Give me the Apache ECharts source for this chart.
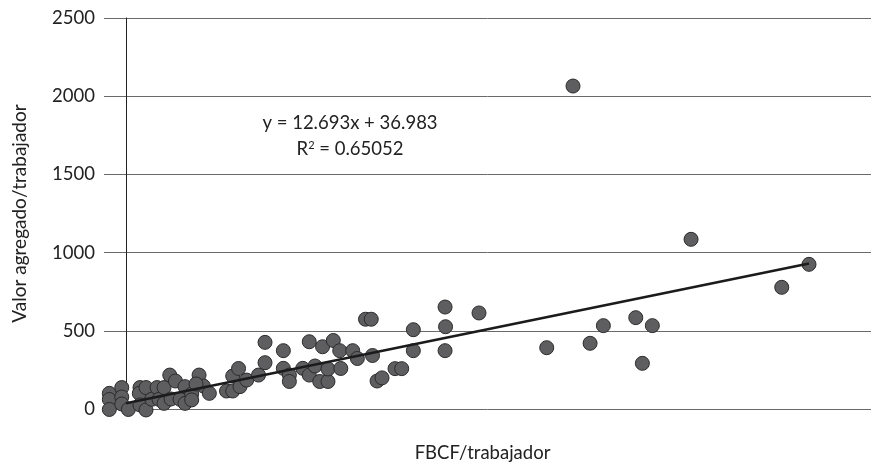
<!DOCTYPE html>
<html>
<head>
<meta charset="utf-8">
<script src="https://cdn.jsdelivr.net/npm/echarts@6/dist/echarts.min.js"></script>
<style>
html,body{margin:0;padding:0;background:#fff;}
#chart{width:871px;height:463px;}
</style>
</head>
<body>
<div id="chart"></div>
<script>
// FBCF/trabajador (x) values
const fbcf = [
  -1.72, -1.72, -1.72, -0.44, -0.44, -0.44, 0.24, 1.44, 1.37, 1.44,
  2.06, 2.06, 2.65, 3.20, 3.40, 3.92, 3.92, 4.51, 4.64, 5.10,
  5.57, 6.08, 6.08, 6.77, 6.77, 7.53, 7.97, 7.22, 8.59, 10.36,
  11.0, 11.0, 11.6, 11.75, 12.44, 13.66, 14.33, 14.33, 16.22, 16.22,
  16.84, 16.84, 18.22, 18.89, 18.89, 19.48, 19.97, 20.26, 20.82, 20.82,
  21.37, 22.03, 22.14, 23.37, 23.85, 24.69, 25.28, 25.41, 25.88, 26.39,
  27.73, 28.42, 29.62, 29.62, 32.89, 32.94, 32.89, 36.39, 43.37, 46.08,
  47.84, 49.21, 52.55, 53.23, 54.26, 58.25, 67.6, 70.41
];
// Valor agregado/trabajador (y) values
const valor = [
  100, 61, -3, 137, 77, 32, -3, 137, 100, 26,
  137, -6, 62, 137, 62, 137, 36, 217, 64, 179,
  62, 143, 36, 96, 58, 217, 147, 160, 100, 115,
  115, 211, 259, 143, 185, 217, 426, 296, 373, 260,
  217, 176, 260, 430, 217, 275, 176, 398, 176, 256,
  438, 373, 259, 373, 323, 574, 574, 342, 179, 199,
  258, 258, 507, 373, 652, 526, 373, 614, 392, 2065,
  420, 533, 584, 292, 533, 1085, 778, 925
];
// Linear trendline as shown in the annotation
const slope = 12.693;
const intercept = 36.983;
const rSquared = '0.65052';
const trendX = [0, 70.41];

const yTicks = [0, 500, 1000, 1500, 2000, 2500];

const points = fbcf.map((x, i) => [x, valor[i]]);
const trend = trendX.map(x => [x, slope * x + intercept]);

const chart = echarts.init(document.getElementById('chart'));
const font = 'Lato, "Noto Sans", sans-serif';
chart.setOption({
  animation: false,
  backgroundColor: '#ffffff',
  grid: { left: 104, right: 0, top: 18, bottom: 54, containLabel: false, outerBoundsMode: 'none' },
  xAxis: {
    type: 'value',
    min: -2.27,
    max: 76.8,
    name: 'FBCF/trabajador',
    nameLocation: 'middle',
    nameGap: 35,
    nameMoveOverlap: false,
    nameTextStyle: { fontFamily: font, fontSize: 18.5, color: '#222', padding: [0, 10, 0, 0] },
    axisLine: { show: false },
    axisTick: { show: false },
    axisLabel: { show: false },
    splitLine: { show: false }
  },
  yAxis: {
    type: 'value',
    min: yTicks[0],
    max: yTicks[yTicks.length - 1],
    interval: 500,
    name: 'Valor agregado/trabajador',
    nameLocation: 'middle',
    nameGap: 75,
    nameMoveOverlap: false,
    nameTextStyle: { fontFamily: font, fontSize: 19, color: '#222' },
    axisLine: { show: true, onZero: true, lineStyle: { color: '#222', width: 1 } },
    axisTick: { show: false },
    axisLabel: {
      margin: 9, fontFamily: font, fontSize: 18.5, color: '#222',
      formatter: v => String(v)
    },
    splitLine: { show: true, lineStyle: { color: '#6a6a6a', width: 1 } }
  },
  series: [
    {
      type: 'scatter',
      data: points,
      symbol: 'circle',
      symbolSize: 14,
      clip: false,
      itemStyle: { color: '#5e5e61', borderColor: '#2b2b2b', borderWidth: 1, opacity: 1 },
      z: 2
    },
    {
      type: 'line',
      data: trend,
      showSymbol: false,
      symbol: 'none',
      lineStyle: { color: '#1c1a1b', width: 2.6 },
      z: 3
    }
  ],
  graphic: [
    {
      type: 'text',
      x: 350,
      y: 123,
      style: {
        text: 'y = 12.693x + 36.983',
        font: '18.5px ' + font,
        fill: '#222',
        align: 'center', textAlign: 'center',
        verticalAlign: 'middle', textVerticalAlign: 'middle'
      }
    },
    {
      type: 'text',
      x: 350,
      y: 149,
      style: {
        text: 'R{sup|2} = ' + rSquared,
        font: '18.5px ' + font,
        fill: '#222',
        align: 'center', textAlign: 'center',
        verticalAlign: 'middle', textVerticalAlign: 'middle',
        rich: {
          sup: { fontSize: 11, verticalAlign: 'top', fontFamily: font, fill: '#222', padding: [0, 0, 7, 0] }
        }
      }
    }
  ]
});
</script>
</body>
</html>
